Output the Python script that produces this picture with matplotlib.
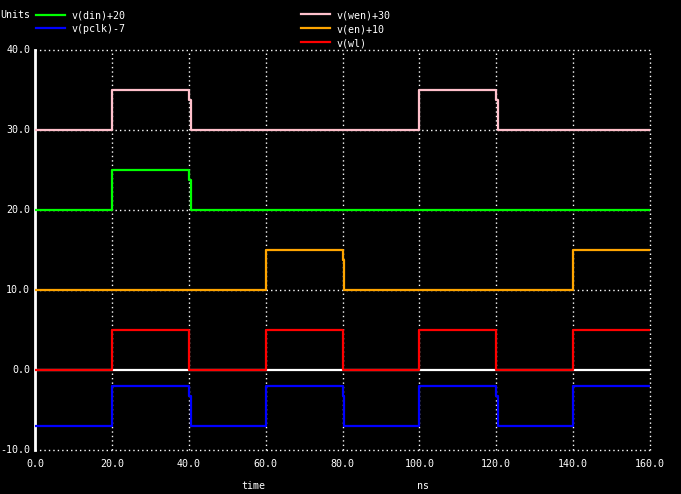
import numpy as np
import matplotlib
matplotlib.use('Agg')
import matplotlib.pyplot as plt
import matplotlib.transforms as mtrans

plt.rcParams['lines.scale_dashes'] = False
plt.rcParams['font.family'] = 'DejaVu Sans Mono'

# step waveforms (time in ns), kink on some falling edges
t_wen = [0, 20, 20, 40, 40, 40.5, 40.5, 100, 100, 120, 120, 120.5, 120.5, 160]
v_wen = [30, 30, 35, 35, 33.75, 33.75, 30, 30, 35, 35, 33.75, 33.75, 30, 30]

t_din = [0, 20, 20, 40, 40, 40.5, 40.5, 160]
v_din = [20, 20, 25, 25, 23.75, 23.75, 20, 20]

t_en = [0, 60, 60, 80, 80, 80.5, 80.5, 140, 140, 160]
v_en = [10, 10, 15, 15, 13.75, 13.75, 10, 10, 15, 15]

t_wl = [0, 20, 20, 40, 40, 60, 60, 80, 80, 100, 100, 120, 120, 140, 140, 160]
v_wl = [0, 0, 5, 5, 0, 0, 5, 5, 0, 0, 5, 5, 0, 0, 5, 5]

t_pclk = [0, 20, 20, 40, 40, 40.5, 40.5, 60, 60, 80, 80, 80.5, 80.5, 100, 100,
          120, 120, 120.5, 120.5, 140, 140, 160]
v_pclk = [-7, -7, -2, -2, -3.25, -3.25, -7, -7, -2, -2, -3.25, -3.25, -7, -7, -2,
          -2, -3.25, -3.25, -7, -7, -2, -2]

xticks = [0, 20, 40, 60, 80, 100, 120, 140, 160]
yticks = [-10, 0, 10, 20, 30, 40]

W, H = 681, 494
fig = plt.figure(figsize=(W / 100, H / 100), dpi=100, facecolor='black')
ax = fig.add_axes([35 / W, 44 / H, 615 / W, 400 / H], facecolor='black')
ax.set_xlim(0, 160)
ax.set_ylim(-10, 40)
for s in ax.spines.values():
    s.set_visible(False)
ax.set_xticks([])
ax.set_yticks([])

dots = dict(color='white', lw=1.0, dashes=(1, 2.2), zorder=1, clip_on=False)
for x in xticks[1:]:
    ax.axvline(x, **dots)
for y in yticks:
    if y != 0:
        ax.axhline(y, **dots)
ax.axvline(0, color='white', lw=2, zorder=1, clip_on=False)
ax.axhline(0, color='white', lw=1.6, zorder=1.5)

c_green, c_blue, c_pink, c_orange, c_red = '#00ff00', '#0000ff', '#ffc0cb', '#ffa500', '#ff0000'
lw = 1.6
ax.plot(t_din, v_din, color=c_green, lw=lw, zorder=3)
ax.plot(t_pclk, v_pclk, color=c_blue, lw=lw, zorder=3)
ax.plot(t_wen, v_wen, color=c_pink, lw=lw, zorder=3)
ax.plot(t_en, v_en, color=c_orange, lw=lw, zorder=3)
ax.plot(t_wl, v_wl, color=c_red, lw=lw, zorder=3)

fs = 7.2
down = ax.transData + mtrans.ScaledTranslation(0, -0.09, fig.dpi_scale_trans)
for x in xticks:
    ax.text(x, -10, '%.1f' % x, color='white', fontsize=fs, ha='center', va='top',
            transform=down, clip_on=False)
for y in yticks:
    ax.text(-0.008, (y + 10) / 50, '%.1f' % y, color='white', fontsize=fs,
            ha='right', va='center', transform=ax.transAxes)


def px(x, y):
    return x / W, 1 - y / H


fig.text(*px(253, 486), 'time', color='white', fontsize=fs, ha='center', va='center')
fig.text(*px(423, 486), 'ns', color='white', fontsize=fs, ha='center', va='center')
fig.text(*px(0, 15), 'Units', color='white', fontsize=fs, ha='left', va='center')

legend = [(36, 15, c_green, 'v(din)+20'), (36, 28, c_blue, 'v(pclk)-7'),
          (301, 14, c_pink, 'v(wen)+30'), (301, 28, c_orange, 'v(en)+10'),
          (301, 42, c_red, 'v(wl)')]
for x0, y0, c, lab in legend:
    fig.add_artist(plt.Line2D([x0 / W, (x0 + 29) / W], [1 - y0 / H, 1 - y0 / H],
                              color=c, lw=lw, transform=fig.transFigure))
    fig.text(*px(x0 + 36, y0 + 1), lab, color='white', fontsize=fs, ha='left', va='center')

fig.savefig('out.png', dpi=100, facecolor='black')
